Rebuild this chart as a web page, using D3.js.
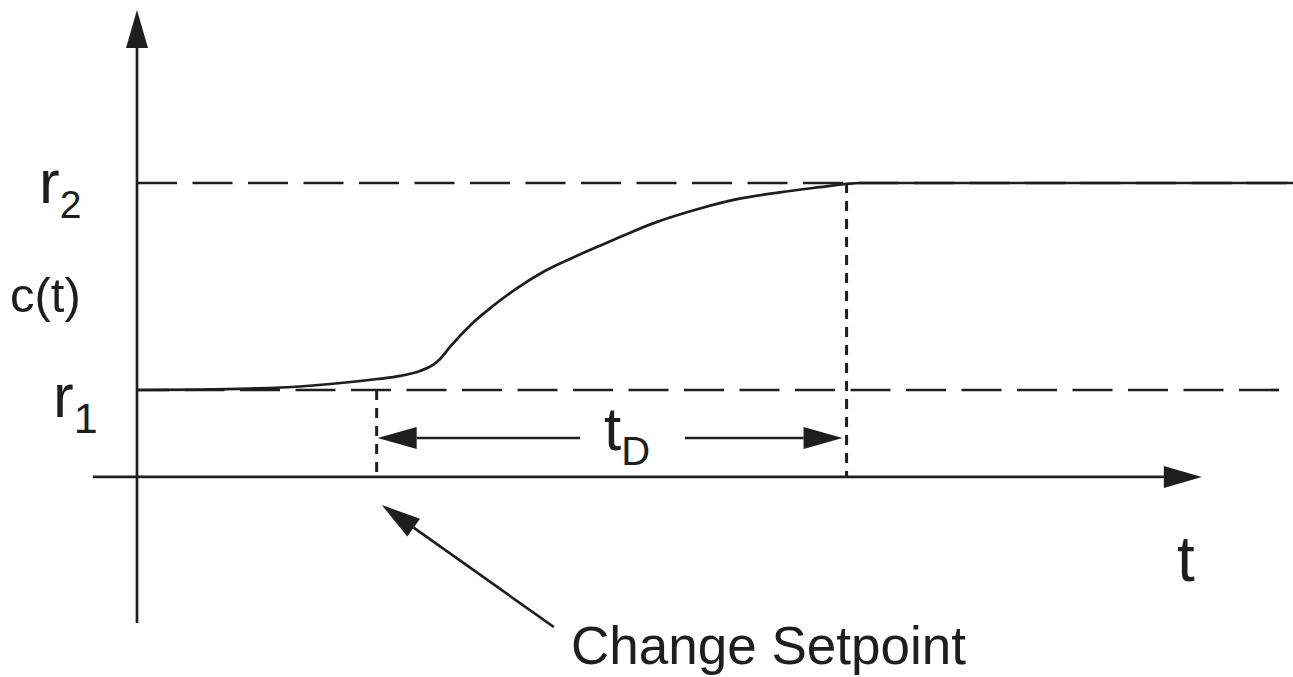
<!DOCTYPE html>
<html>
<head>
<meta charset="utf-8">
<script src="https://cdn.jsdelivr.net/npm/d3@7"></script>
<style>
  body { margin: 0; background: #fff; }
  svg { display: block; }
  text { font-family: "Liberation Sans", Arial, sans-serif; fill: #1e1e1e; }
</style>
</head>
<body>
<svg id="chart" width="1293" height="677"></svg>
<script>
// response c(t), r1 = 0, r2 = 1
const curveT = [0, 1.34, 2.40, 3.47, 4.11, 5.11, 5.60, 6.02, 6.30, 6.45, 6.66, 7.15, 7.57, 8.09,
  8.64, 9.28, 9.85, 10.34, 10.98, 11.98, 12.77, 13.68, 14.53, 15.11, 15.4, 24.6];
const curveC = [0, 0.002, 0.007, 0.017, 0.029, 0.053, 0.068, 0.092, 0.121, 0.150, 0.208, 0.325, 0.405, 0.492,
  0.570, 0.640, 0.697, 0.745, 0.805, 0.877, 0.922, 0.955, 0.980, 0.996, 1.0, 1.0];

const refLevels = [0, 1];        // r1, r2
const refSubs = ["1", "2"];
const setpointT = 5.1;           // setpoint change
const settleT = 15.1;            // end of tD

const xAxisExtent = [-0.94, 22.66];
const yAxisExtent = [-1.126, 1.836];
const xAxisLevel = -0.42;
const tdLevel = -0.232;
const tdGap = [9.43, 11.66];
const noteTail = [8.87, -1.145];
const noteTip = [5.21, -0.556];

const ink = "#1e1e1e";
const svg = d3.select("#chart");

let x = d3.scaleLinear().domain([0, 24.6]).range([137, 1293]);
let y = d3.scaleLinear().domain([0, 1]).range([390, 183]);

// arrow head as triangle, returns the base point too so the shaft can stop there
function arrowHead(x1, y1, x2, y2, len, half) {
  let a = Math.atan2(y2 - y1, x2 - x1);
  let bx = x2 - len * Math.cos(a), by = y2 - len * Math.sin(a);
  let px = -Math.sin(a) * half, py = Math.cos(a) * half;
  return { base: [bx, by], pts: [[x2, y2], [bx + px, by + py], [bx - px, by - py]] };
}

function arrow(g, x1, y1, x2, y2, len, half) {
  let h = arrowHead(x1, y1, x2, y2, len, half);
  g.append("line")
    .attr("x1", x1).attr("y1", y1)
    .attr("x2", h.base[0]).attr("y2", h.base[1])
    .attr("stroke", ink).attr("stroke-width", 2.7);
  g.append("polygon")
    .attr("points", h.pts.map(p => p.join(",")).join(" "))
    .attr("fill", ink);
}

// reference levels r1, r2
svg.append("g").selectAll("line")
  .data(refLevels)
  .enter()
  .append("line")
  .attr("x1", x(0)).attr("x2", x(24.6))
  .attr("y1", d => y(d)).attr("y2", d => y(d))
  .attr("stroke", ink)
  .attr("stroke-width", 2.7)
  .attr("stroke-dasharray", "40,15.5")
  .attr("stroke-dashoffset", (d, i) => i == 0 ? 8 : 0);

// dotted verticals
svg.append("g").selectAll("line")
  .data([[setpointT, 0], [settleT, 1]])
  .enter()
  .append("line")
  .attr("x1", d => x(d[0])).attr("x2", d => x(d[0]))
  .attr("y1", d => y(d[1])).attr("y2", y(xAxisLevel))
  .attr("stroke", ink)
  .attr("stroke-width", 3)
  .attr("stroke-dasharray", "10,8");

// response curve
let line = d3.line()
  .x((d, i) => x(curveT[i]))
  .y(d => y(d))
  .curve(d3.curveMonotoneX);

svg.append("path")
  .datum(curveC)
  .attr("d", line)
  .attr("fill", "none")
  .attr("stroke", ink)
  .attr("stroke-width", 2.7);

// axes
let axes = svg.append("g");
arrow(axes, x(0), y(yAxisExtent[0]), x(0), y(yAxisExtent[1]), 38, 11);
arrow(axes, x(xAxisExtent[0]), y(xAxisLevel), x(xAxisExtent[1]), y(xAxisLevel), 38, 11);

// tD double arrow
let td = svg.append("g");
arrow(td, x(tdGap[0]), y(tdLevel), x(setpointT) + 1, y(tdLevel), 39, 11);
arrow(td, x(tdGap[1]), y(tdLevel), x(settleT) - 4, y(tdLevel), 39, 11);

// setpoint note arrow
arrow(svg.append("g"), x(noteTail[0]), y(noteTail[1]), x(noteTip[0]), y(noteTip[1]), 39, 11);

// labels
let lab = svg.append("g");
let rPos = [[53, 417, 433, 43], [39, 203, 218, 39]];
refLevels.forEach((d, i) => {
  let t = lab.append("text")
    .attr("x", rPos[i][0]).attr("y", rPos[i][1])
    .attr("font-size", 62);
  t.append("tspan").text("r");
  t.append("tspan")
    .attr("dy", rPos[i][2] - rPos[i][1])
    .attr("font-size", rPos[i][3])
    .text(refSubs[i]);
});

lab.append("text").attr("x", 10).attr("y", 312).attr("font-size", 49).text("c(t)");
lab.append("text").attr("x", 1177).attr("y", 581).attr("font-size", 64).text("t");

let tdText = lab.append("text").attr("x", 604).attr("y", 450).attr("font-size", 62);
tdText.append("tspan").text("t");
tdText.append("tspan").attr("dy", 15).attr("font-size", 40).text("D");

lab.append("text").attr("x", 571).attr("y", 664).attr("font-size", 53).text("Change Setpoint");
</script>
</body>
</html>
